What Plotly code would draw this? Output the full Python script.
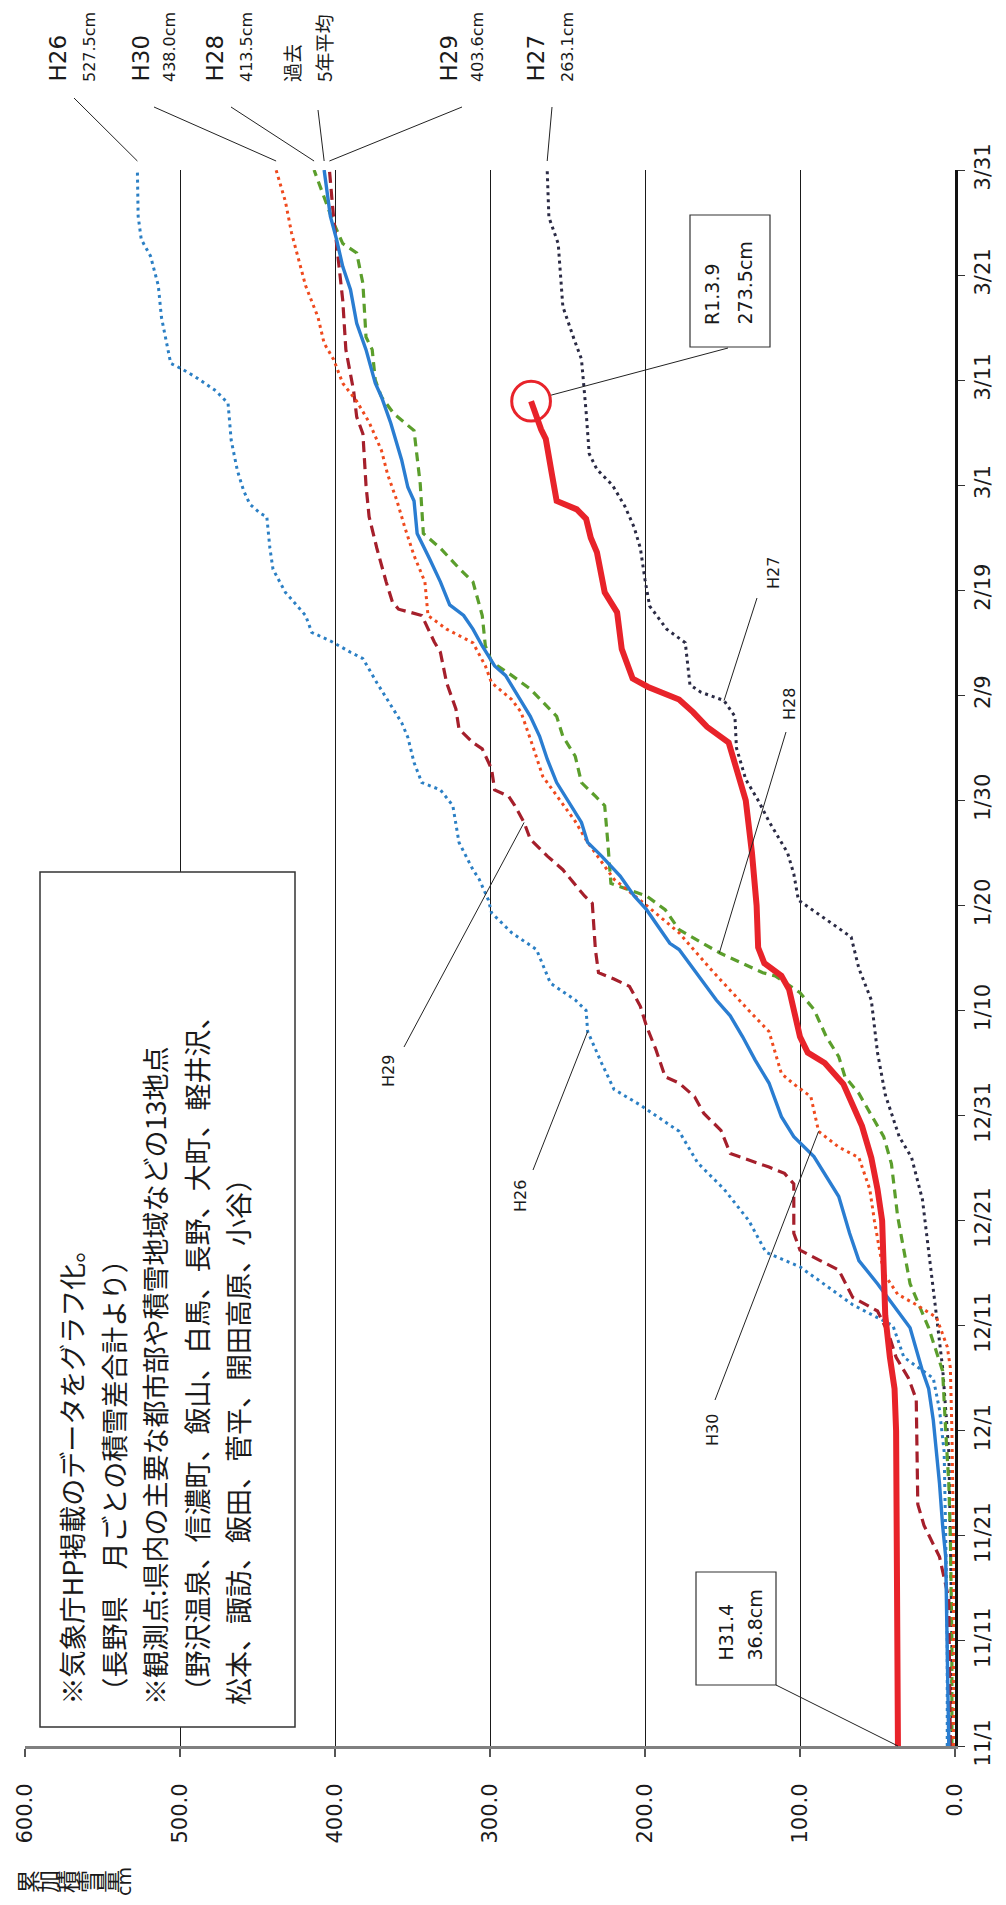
import pandas as pd
import plotly.graph_objects as go

# ---------------- data ----------------
SEASON_START = "2018-11-01"
N_DAYS = 150
value_ticks = [0, 100, 200, 300, 400, 500, 600]
date_tick_step_days = 10

# day offsets from 11/1 and cumulative snowfall (cm)
h26_days = [0, 10, 20, 28, 32, 35, 37, 40, 42, 44, 45.6, 47, 50, 53, 55.5, 58.5, 61, 62.5, 65, 68,
            70, 71, 72.6, 75.8, 77.4, 79.3, 80.5, 82.5, 83.4, 86, 89.5, 91, 91.7, 93.6, 96, 97.4, 99.3, 101.2, 103.5, 104.1,
            105.1, 106, 107.6, 109.8, 112, 114, 117, 117.3, 118.2, 119.5, 121.4, 124.3, 127.8, 129, 130.3, 131, 131.6, 133, 136, 139,
            141.8, 143.4, 145.6, 150]
h26_vals = [5, 5, 6, 7, 10, 14, 33, 40, 66, 85, 100, 122, 133, 149, 166, 178, 203, 220, 228, 237,
            238, 245, 261, 270, 286, 299, 301, 307, 311, 320, 324, 332, 344, 349, 353, 357, 365, 373, 382, 390,
            402, 415, 419, 432, 440, 442, 444, 448, 455, 459, 463, 467, 469, 477, 490, 498, 506, 508, 512, 514,
            519, 525, 527, 527.5]

h27_days = [0, 10, 20, 28, 32, 36, 41, 47, 52, 56, 58, 62, 66, 71, 74, 77, 79, 80.5, 83, 85,
            88, 90, 92, 95, 98, 99.5, 100.3, 101, 105, 106.3, 108.5, 111, 114, 116, 118, 120, 121.5, 123, 127, 132,
            134, 137, 143, 145.5, 150]
h27_vals = [2, 2, 3, 4, 6, 8, 12, 17, 21, 28, 36, 45, 50, 54, 62, 67, 86, 101, 104, 108,
            120, 127, 135, 141, 142, 149, 164, 171, 174, 186, 197, 200, 203, 207, 213, 221, 231, 236, 238, 241,
            246, 253, 256, 262, 263.1]

h28_days = [0, 10, 20, 25, 30, 35.7, 39.8, 44, 50.4, 55.4, 58, 62.1, 63.7, 65.6, 67.5, 70.1, 71.7, 73.3, 73.6, 74.5,
            75.5, 77.7, 79.6, 80.9, 82.1, 86, 89.5, 90.4, 91.7, 94.2, 96.1, 98, 100, 100.6, 101.9, 103.2, 104.7, 107.6, 110.8, 112.1,
            114, 115.4, 120.1, 125.2, 126.8, 128.4, 130, 132.9, 134.1, 139.2, 142.1, 143, 145, 147.5, 150]
h28_vals = [2, 2, 3, 4, 6, 8, 17, 29, 37, 41, 46, 62, 71, 75, 83, 91, 100, 116, 124, 137,
            152, 178, 187, 199, 222, 224, 226, 232, 241, 245, 253, 257, 270, 274, 286, 299, 303, 305, 311, 320,
            332, 343, 345, 349, 362, 370, 374, 376, 380, 382, 386, 395, 401, 407, 413.5]

h29_days = [0, 14, 18, 21, 23, 33, 35, 37, 39.3, 41.4, 42.7, 45.3, 46.2, 47.2, 48.8, 53.5, 54.5, 55.1, 56.4, 58.6,
            60.2, 61.8, 63.1, 63.7, 66.3, 68.5, 70.4, 72.3, 73, 73.6, 75.8, 80.2, 80.9, 83.4, 84.7, 86.3, 87.9, 89.5, 90.4, 91,
            93, 94.9, 95.5, 96.8, 98.7, 101.2, 104.1, 105.1, 107.6, 108.2, 108.9, 110.8, 114, 117, 120, 124.9, 126.5, 129, 132.9, 137.6,
            143, 145.6, 150]
h29_vals = [3, 4, 10, 20, 24, 25, 30, 38, 43, 50, 66, 75, 87, 100, 104, 104, 110, 120, 145, 151,
            162, 168, 178, 187, 193, 199, 203, 210, 220, 230, 232, 234, 239, 253, 263, 274, 278, 284, 288, 297,
            299, 305, 311, 320, 322, 328, 332, 336, 344, 359, 363, 367, 373, 378, 380, 382, 386, 388, 393, 395,
            399, 401, 403.6]

h30_days = [0, 10, 20, 30, 36, 38, 40.8, 42, 43, 45, 50, 53, 56, 57, 58.5, 61.8, 63, 64, 68, 70,
            74, 77.4, 80, 82.5, 86, 88, 90.4, 92.3, 95, 98.4, 99.6, 101.2, 102.8, 105, 106.3, 107.6, 110.8, 113.3, 116, 118.5,
            121, 123.3, 126, 128, 129.7, 132, 133.5, 136, 139, 144, 147, 150]
h30_vals = [1, 1, 1, 2, 3, 5, 12, 25, 37, 46, 52, 55, 62, 75, 88, 93, 104, 112, 120, 133,
            158, 178, 199, 220, 237, 245, 257, 266, 272, 280, 286, 299, 303, 311, 328, 340, 342, 349, 355, 360,
            366, 370, 378, 386, 395, 401, 407, 411, 419, 428, 432, 438]

avg_days = [0, 10, 18, 21, 25, 31, 34, 35.7, 39.8, 41.4, 44, 46.2, 48.8, 52.3, 54.2, 56.1, 58, 59.9, 63.1, 65.3,
            67.5, 69.5, 71, 72.6, 74.2, 75.8, 76.4, 79.6, 80.9, 82.8, 84.7, 86, 87.9, 89.8, 91.7, 93.9, 96.1, 98, 100, 101.9,
            102.8, 104.7, 106.3, 107.6, 108.6, 110.8, 113, 115.4, 118.5, 119.8, 122.4, 125.9, 128.4, 129.7, 132.9, 135.4, 138.6, 140.8, 143.4, 145.6,
            150]
avg_vals = [4, 5, 6, 8, 10, 14, 17, 21, 29, 37, 50, 62, 68, 75, 83, 91, 104, 112, 120, 129,
            137, 145, 154, 162, 170, 178, 184, 199, 207, 216, 228, 237, 241, 249, 257, 263, 268, 274, 282, 290,
            297, 305, 311, 317, 326, 332, 339, 347, 349, 353, 357, 364, 370, 374, 380, 386, 390, 395, 399, 403,
            407]

r1_days = [0, 10, 20, 30, 34, 37, 41, 46, 50, 53, 56, 59, 61, 63, 65, 66, 67.5, 70, 72, 73.3,
           74.5, 76, 80, 85, 90, 95.5, 97, 98.4, 99.6, 100.8, 101.6, 104.4, 107.9, 109.8, 113.6, 115, 116.8, 117.7, 118.5, 121,
           124.4, 125.3, 127, 128]
r1_vals = [36.8, 37, 37.5, 38, 39, 42, 45, 46, 47, 50, 54, 60, 66, 72, 84, 95, 100, 104, 107, 112,
           123, 127, 128, 131, 135, 146, 160, 169, 178, 198, 208, 215, 218, 226, 231, 235, 238, 244, 257, 260,
           264, 267, 271, 273.5]

# ---------------- page geometry ----------------
W, H = 1006, 1905
L, R, T, B = 25, 51, 170, 159
PW, PH = W - L - R, H - T - B
BOTTOM = H - B
VMAX = value_ticks[-1]

base = pd.Timestamp(SEASON_START)


def to_dates(days):
    return base + pd.to_timedelta(list(days), unit="D")


def xp(px):  # page px -> paper x
    return (px - L) / PW


def yp(py):  # page px -> paper y
    return (BOTTOM - py) / PH


def vx(v):  # data value -> page px
    return L + (VMAX - v) / VMAX * PW


def dy(d):  # day offset -> page px
    return BOTTOM - d / N_DAYS * PH


LAT = "DejaVu Sans"
CJK = "Noto Sans CJK JP"
TXT = "#1a1a1a"

series = [
    ("H26", h26_days, h26_vals, "#2b7fc4", 3, "3px,4px"),
    ("H27", h27_days, h27_vals, "#2a2a44", 3, "3px,4px"),
    ("H28", h28_days, h28_vals, "#5b9e2c", 3.2, "9px,6px"),
    ("H29", h29_days, h29_vals, "#a51f2b", 3.2, "11px,6px"),
    ("H30", h30_days, h30_vals, "#ef4a1e", 3, "3px,4px"),
    ("過去5年平均", avg_days, avg_vals, "#2a7dd1", 3.4, "solid"),
    ("R1", r1_days, r1_vals, "#e8232a", 6, "solid"),
]

fig = go.Figure()
for name, d, v, col, w, dash in series:
    fig.add_trace(go.Scatter(x=v, y=to_dates(d), mode="lines", name=name,
                             line=dict(color=col, width=w, dash=dash)))

fig.update_layout(
    width=W, height=H, margin=dict(l=L, r=R, t=T, b=B),
    paper_bgcolor="white", plot_bgcolor="white", showlegend=False,
)
fig.update_xaxes(
    range=[VMAX, 0], tickmode="array", tickvals=value_ticks, tickformat=".1f",
    tickangle=-90, tickfont=dict(family=LAT, size=21, color=TXT),
    showgrid=True, gridcolor="#1a1a1a", gridwidth=1, zeroline=False,
    showline=True, linecolor="#808080", linewidth=3,
    ticks="outside", ticklen=8, tickcolor="#555", tickwidth=1.5,
    ticklabelstandoff=18,
)
end_date = base + pd.Timedelta(days=N_DAYS)
fig.update_yaxes(
    type="date", range=[base, end_date], side="right",
    tickmode="linear", tick0=base, dtick=date_tick_step_days * 86400000,
    tickformat="%-m/%-d", tickangle=-90,
    tickfont=dict(family=LAT, size=21, color=TXT),
    showgrid=False, zeroline=False, showline=True, linecolor="#111", linewidth=2.5,
    ticks="outside", ticklen=7, tickcolor="#333",
)

ann = []
shapes = []


def rot(text, px, py, size, fam=LAT, yanchor="bottom"):
    ann.append(dict(text=text, x=xp(px), y=yp(py), xref="paper", yref="paper",
                    showarrow=False, textangle=-90, xanchor="center", yanchor=yanchor,
                    font=dict(family=fam, size=size, color=TXT)))


def seg(x0, y0, x1, y1, col="#222", w=1):
    shapes.append(dict(type="line", xref="paper", yref="paper",
                       x0=xp(x0), y0=yp(y0), x1=xp(x1), y1=yp(y1),
                       line=dict(color=col, width=w)))


def box(x0, y0, x1, y1, w=1.2):
    shapes.append(dict(type="rect", xref="paper", yref="paper",
                       x0=xp(x0), y0=yp(y0), x1=xp(x1), y1=yp(y1),
                       line=dict(color="#333", width=w), fillcolor="white", layer="above"))


# ---- end-of-season labels above the plot
top_labels = [
    ("H26", "527.5cm", 58, 90, h26_vals[-1], 74, 98),
    ("H30", "438.0cm", 141, 170, h30_vals[-1], 154, 107),
    ("H28", "413.5cm", 215, 247, h28_vals[-1], 231, 107),
    ("H29", "403.6cm", 449, 478, h29_vals[-1], 462, 107),
    ("H27", "263.1cm", 536, 568, h27_vals[-1], 552, 107),
]
for big, small, xb, xs, vend, sx, sy in top_labels:
    rot(big, xb, 84, 23)
    rot(small, xs, 84, 16)
    seg(sx, sy, vx(vend), dy(N_DAYS) - 9)
rot("過去", 292, 84, 19, CJK)
rot("5年平均", 324, 84, 19, CJK)
seg(318, 110, vx(avg_vals[-1]), dy(N_DAYS) - 9)

# ---- in-plot series labels
inner = [
    ("H27", 773, 573, 757, 598, h27_days, h27_vals, 25),
    ("H28", 789, 704, 786, 732, h28_days, h28_vals, 20),
    ("H29", 388, 1071, 404, 1047, h29_days, h29_vals, 36),
    ("H26", 520, 1196, 533, 1170, h26_days, h26_vals, 19),
    ("H30", 712, 1430, 715, 1400, h30_days, h30_vals, 14),
]
for txt, cx, cy, sx, sy, dd, vv, idx in inner:
    rot(txt, cx, cy, 16, yanchor="middle")
    seg(sx, sy, vx(vv[idx]), dy(dd[idx]))

# ---- R1 end box + circle
box(690, 215, 770, 347)
rot("R1.3.9", 712, 327, 19)
rot("273.5cm", 744, 327, 19)
rend_v, rend_d = r1_vals[-1], r1_days[-1]
shapes.append(dict(type="circle", xref="x", yref="y",
                   x0=rend_v - 12.5, x1=rend_v + 12.5,
                   y0=to_dates([rend_d - 1.9])[0], y1=to_dates([rend_d + 1.9])[0],
                   line=dict(color="#e8232a", width=3), layer="above"))
seg(vx(rend_v) + 20, dy(rend_d) - 6, 728, 348)

# ---- R1 start box
box(696, 1572, 776, 1685)
rot("H31.4", 725, 1663, 19)
rot("36.8cm", 754, 1663, 19)
seg(776, 1685, vx(r1_vals[0]), dy(r1_days[0]))

# ---- notes box
box(40, 872, 295, 1727, w=1.5)
notes = [
    "※気象庁HP掲載のデータをグラフ化。",
    "（長野県　月ごとの積雪差合計より）",
    "※観測点:県内の主要な都市部や積雪地域などの13地点",
    "（野沢温泉、信濃町、飯山、白馬、長野、大町、軽井沢、",
    "松本、諏訪、飯田、菅平、開田高原、小谷）",
]
for i, line in enumerate(notes):
    rot(line, 71 + i * 41.5, 1707, 27, CJK)

# ---- axis title (stacked characters, turned with the page)
title_chars = ["累", "加", "積", "雪", "量"]
for i, ch in enumerate(title_chars):
    rot(ch, 27 + i * 20, 1882, 23, CJK, yanchor="middle")
rot("cm", 124, 1882, 19, yanchor="middle")

fig.update_layout(annotations=ann, shapes=shapes)

fig.write_html("out.html", config={"displayModeBar": False},
               post_script="document.body.style.margin='0';document.body.style.overflow='hidden';")
